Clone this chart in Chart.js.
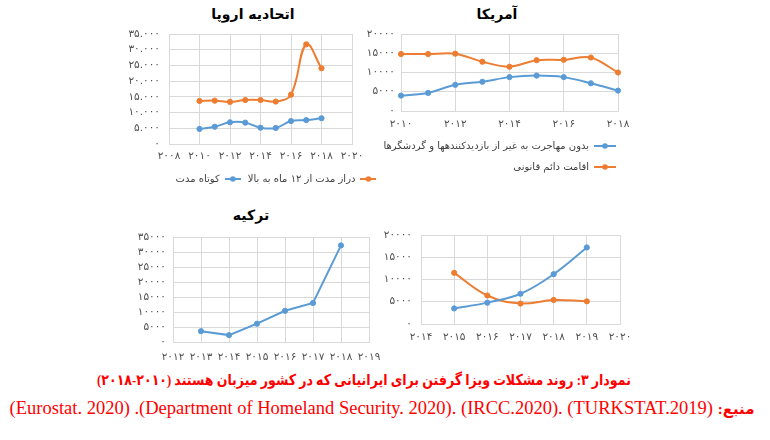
<!DOCTYPE html>
<html lang="fa">
<head>
<meta charset="utf-8">
<script src="https://cdn.jsdelivr.net/npm/chart.js@4.4.1/dist/chart.umd.min.js"></script>
<style>
  html, body { margin: 0; padding: 0; background: #ffffff; }
  body { width: 770px; height: 440px; position: relative; overflow: hidden; }
  canvas { position: absolute; }
  .ttl { position: absolute; font-family: 'DejaVu Sans', sans-serif; font-weight: bold; font-size: 14px;
         color: #000; direction: rtl; white-space: nowrap; transform: translate(-50%, -50%); line-height: 1; }
  .cap { position: absolute; color: #ff0000; white-space: nowrap; line-height: 1; }
</style>
</head>
<body>
<div class="ttl" style="left:253px; top:14px;">اتحادیه اروپا</div>
<div class="ttl" style="left:497px; top:14px;">آمریکا</div>
<div class="ttl" style="left:251px; top:215px;">ترکیه</div>

<canvas id="eu"  width="312" height="174" style="left:120px; top:20px;"></canvas>
<canvas id="us"  width="280" height="162" style="left:355px; top:20px;"></canvas>
<canvas id="tr"  width="260" height="139" style="left:125px; top:225px;"></canvas>
<canvas id="ca"  width="270" height="124" style="left:370px; top:222px;"></canvas>

<div class="cap" dir="rtl" style="left:364px; top:380px; transform: translate(-50%, -50%) scaleX(0.84); font-family:'Liberation Serif','DejaVu Sans',serif; font-weight:bold; font-size:15px;">نمودار ۳: روند مشکلات ویزا گرفتن برای ایرانیانی که در کشور میزبان هستند (۲۰۱۰-۲۰۱۸)</div>
<div class="cap" dir="ltr" style="left:382px; top:408px; transform: translate(-50%, -50%); font-family:'Liberation Serif','DejaVu Sans',serif; font-size:18.5px;">(Eurostat. 2020) .(Department of Homeland Security. 2020). (IRCC.2020). (TURKSTAT.2019) <bdi dir="rtl" style="font-weight:bold;font-size:15px;">منبع:</bdi></div>

<script>
// ---------------- DATA ----------------
const BLUE = '#5B9BD5';
const ORANGE = '#ED7D31';

// European Union
const euYears      = [2010, 2011, 2012, 2013, 2014, 2015, 2016, 2017, 2018];
const euShortTerm  = [4800, 5500, 6900, 6800, 5200, 5100, 7300, 7600, 8200];
const euLongTerm   = [13700, 13800, 13400, 14000, 14000, 13500, 15700, 31700, 24100];
const euSeriesNames = ['دراز مدت از ۱۲ ماه به بالا', 'کوتاه مدت'];
const euXTickLabels = ['۲۰۰۸', '۲۰۱۰', '۲۰۱۲', '۲۰۱۴', '۲۰۱۶', '۲۰۱۸', '۲۰۲۰'];
const euYTickLabels = ['۰', '۵.۰۰۰', '۱۰.۰۰۰', '۱۵.۰۰۰', '۲۰.۰۰۰', '۲۵.۰۰۰', '۳۰.۰۰۰', '۳۵.۰۰۰'];

// United States
const usYears        = [2010, 2011, 2012, 2013, 2014, 2015, 2016, 2017, 2018];
const usNonImmigrant = [4000, 4700, 6800, 7600, 8800, 9200, 8800, 7200, 5300];
const usPermanent    = [14800, 14800, 14900, 12800, 11500, 13200, 13300, 13900, 10000];
const usSeriesNames  = ['بدون مهاجرت به غیر از بازدیدکنندهها و گردشگرها', 'اقامت دائم قانونی'];
const usXTickLabels  = ['۲۰۱۰', '۲۰۱۲', '۲۰۱۴', '۲۰۱۶', '۲۰۱۸'];
const usYTickLabels  = ['۰', '۵۰۰۰', '۱۰۰۰۰', '۱۵۰۰۰', '۲۰۰۰۰'];

// Turkey
const trYears  = [2013, 2014, 2015, 2016, 2017, 2018];
const trValues = [3600, 2300, 6100, 10400, 13000, 32200];
const trXTickLabels = ['۲۰۱۲', '۲۰۱۳', '۲۰۱۴', '۲۰۱۵', '۲۰۱۶', '۲۰۱۷', '۲۰۱۸', '۲۰۱۹'];
const trYTickLabels = ['۰', '۵۰۰۰', '۱۰۰۰۰', '۱۵۰۰۰', '۲۰۰۰۰', '۲۵۰۰۰', '۳۰۰۰۰', '۳۵۰۰۰'];

// Canada
const caYears  = [2015, 2016, 2017, 2018, 2019];
const caBlue   = [3500, 4800, 6800, 11200, 17200];
const caOrange = [11500, 6400, 4600, 5400, 5100];
const caXTickLabels = ['۲۰۱۴', '۲۰۱۵', '۲۰۱۶', '۲۰۱۷', '۲۰۱۸', '۲۰۱۹', '۲۰۲۰'];
const caYTickLabels = ['۰', '۵۰۰۰', '۱۰۰۰۰', '۱۵۰۰۰', '۲۰۰۰۰'];

// ---------------- HELPERS ----------------
Chart.defaults.font.family = "'DejaVu Sans', sans-serif";
Chart.defaults.color = '#505050';
const TICK_FONT = { size: 10.5 };
const TICK_COLOR = '#505050';

function pts(xs, ys) { return xs.map((x, i) => ({ x: x, y: ys[i] })); }

function series(label, xs, ys, color, tension) {
  return {
    label: label, data: pts(xs, ys), borderColor: color, backgroundColor: color,
    borderWidth: 2, pointRadius: 2.6, pointBorderWidth: 1, pointBackgroundColor: color,
    pointBorderColor: color, tension: tension, clip: false, xAxisID: 'x', yAxisID: 'y'
  };
}

function markerImage(color, w) {
  const c = document.createElement('canvas');
  c.width = w; c.height = 8;
  const g = c.getContext('2d');
  g.strokeStyle = color; g.lineWidth = 2;
  g.beginPath(); g.moveTo(0, 4); g.lineTo(w, 4); g.stroke();
  g.fillStyle = color; g.beginPath(); g.arc(w / 2, 4, 2.8, 0, Math.PI * 2); g.fill();
  return c;
}

function legendOpts(markerW, pad, align) {
  return {
    display: true, position: 'bottom', rtl: true, textDirection: 'rtl', align: align,
    labels: {
      usePointStyle: true, pointStyleWidth: markerW, padding: pad, color: '#404040',
      font: { size: 10 },
      generateLabels: function (chart) {
        return chart.data.datasets.map((ds, i) => ({
          text: ds.label, fillStyle: ds.borderColor, strokeStyle: ds.borderColor,
          lineWidth: 0, hidden: false, datasetIndex: i,
          pointStyle: markerImage(ds.borderColor, markerW), fontColor: '#404040'
        }));
      }
    }
  };
}

function lineChart(id, o) {
  return new Chart(document.getElementById(id), {
    type: 'line',
    data: { datasets: o.datasets },
    options: {
      responsive: false, animation: false, devicePixelRatio: 1,
      layout: { padding: { top: o.padTop, right: o.padRight || 0, left: 0, bottom: 0 } },
      plugins: {
        legend: o.legend || { display: false },
        title: { display: false },
        tooltip: { enabled: false }
      },
      scales: {
        x: {
          type: 'linear', position: 'bottom', min: o.xMin, max: o.xMax,
          grid: { color: '#D9D9D9', drawTicks: false, lineWidth: 1 },
          border: { color: '#D9D9D9' },
          ticks: {
            stepSize: o.xStep, autoSkip: false, maxRotation: 0, padding: o.xPad,
            font: TICK_FONT, color: TICK_COLOR,
            callback: (v, i) => o.xLabels[i]
          },
          afterFit: s => { s.height = o.xHeight; s.paddingLeft = 0; s.paddingRight = 0; }
        },
        y: {
          type: 'linear', position: 'left', min: 0, max: o.yMax,
          grid: { color: '#D9D9D9', drawTicks: false, lineWidth: 1 },
          border: { color: '#D9D9D9' },
          ticks: {
            stepSize: o.yStep, autoSkip: false, padding: o.yPad, font: TICK_FONT, color: TICK_COLOR,
            callback: (v, i) => o.yLabels[i]
          },
          afterFit: s => { s.width = o.yWidth; s.paddingTop = 0; s.paddingBottom = 0; }
        },
        y2: {
          type: 'linear', position: 'right', axis: 'y', display: true,
          grid: { display: false, drawTicks: false }, border: { display: false },
          ticks: { display: false },
          afterFit: s => { s.width = o.rightWidth; }
        }
      }
    }
  });
}

// ---------------- CHARTS ----------------
lineChart('eu', {
  datasets: [
    series(euSeriesNames[0], euYears, euLongTerm, ORANGE, 0.4),
    series(euSeriesNames[1], euYears, euShortTerm, BLUE, 0.4)
  ],
  xMin: 2008, xMax: 2020, xStep: 2, xLabels: euXTickLabels,
  yMax: 35000, yStep: 5000, yLabels: euYTickLabels,
  padTop: 14, yWidth: 49, rightWidth: 80, xHeight: 23, xPad: 6, yPad: 9,
  legend: legendOpts(16, 7, 'center')
});

lineChart('us', {
  datasets: [
    series(usSeriesNames[0], usYears, usNonImmigrant, BLUE, 0.3),
    series(usSeriesNames[1], usYears, usPermanent, ORANGE, 0.3)
  ],
  xMin: 2010, xMax: 2018, xStep: 2, xLabels: usXTickLabels,
  yMax: 20000, yStep: 5000, yLabels: usYTickLabels,
  padTop: 14, padRight: 8, yWidth: 46, rightWidth: 9, xHeight: 19, xPad: 7, yPad: 6,
  legend: legendOpts(22, 11, 'start')
});

lineChart('tr', {
  datasets: [ series('ترکیه', trYears, trValues, BLUE, 0) ],
  xMin: 2012, xMax: 2019, xStep: 1, xLabels: trXTickLabels,
  yMax: 35000, yStep: 5000, yLabels: trYTickLabels,
  padTop: 12, yWidth: 48, rightWidth: 16, xHeight: 22, xPad: 9, yPad: 7
});

lineChart('ca', {
  datasets: [
    series('کانادا ۱', caYears, caBlue, BLUE, 0.4),
    series('کانادا ۲', caYears, caOrange, ORANGE, 0.4)
  ],
  xMin: 2014, xMax: 2020, xStep: 1, xLabels: caXTickLabels,
  yMax: 20000, yStep: 5000, yLabels: caYTickLabels,
  padTop: 13, yWidth: 51, rightWidth: 20, xHeight: 22, xPad: 7, yPad: 9
});
</script>
</body>
</html>
